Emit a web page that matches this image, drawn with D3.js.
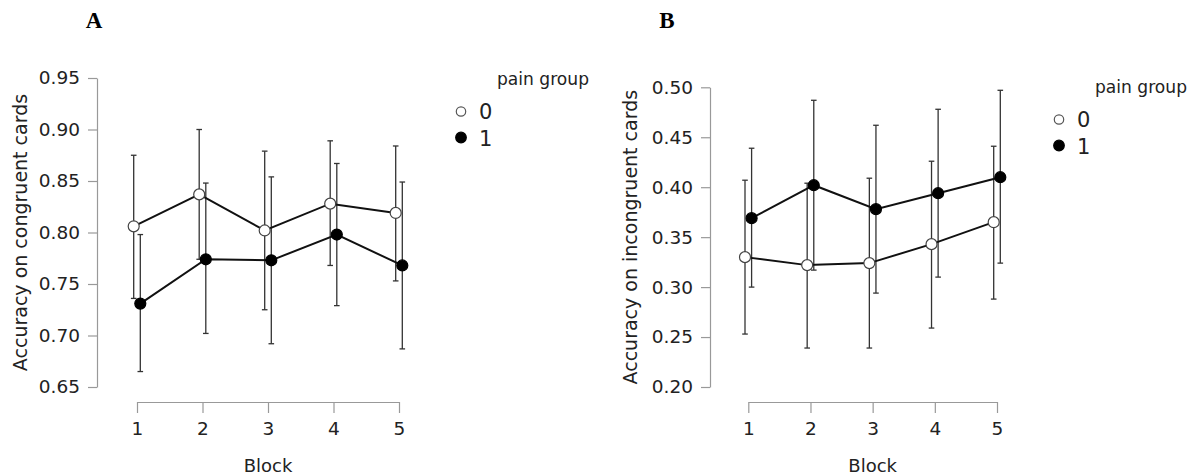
<!DOCTYPE html>
<html>
<head>
<meta charset="utf-8">
<script src="https://cdn.jsdelivr.net/npm/d3@7"></script>
<style>
  body { margin: 0; background: #fff; }
  svg text { font-family: "DejaVu Sans", sans-serif; fill: #222; }
</style>
</head>
<body>
<div id="chart"></div>
<script>
// Block numbers and tick values
var blocks = [1, 2, 3, 4, 5];
var groups = ["0", "1"];
var congruentTicks = [0.65, 0.70, 0.75, 0.80, 0.85, 0.90, 0.95];
var incongruentTicks = [0.20, 0.25, 0.30, 0.35, 0.40, 0.45, 0.50];

// Panel A - accuracy on congruent cards (mean, lower, upper)
var congruentMean0 = [0.806, 0.837, 0.802, 0.828, 0.819];
var congruentLow0 = [0.736, 0.774, 0.725, 0.768, 0.753];
var congruentHigh0 = [0.875, 0.900, 0.879, 0.889, 0.884];
var congruentMean1 = [0.731, 0.774, 0.773, 0.798, 0.768];
var congruentLow1 = [0.665, 0.702, 0.692, 0.729, 0.687];
var congruentHigh1 = [0.798, 0.848, 0.854, 0.867, 0.849];

// Panel B - accuracy on incongruent cards
var incongruentMean0 = [0.330, 0.322, 0.324, 0.343, 0.365];
var incongruentLow0 = [0.253, 0.239, 0.239, 0.259, 0.288];
var incongruentHigh0 = [0.407, 0.404, 0.409, 0.426, 0.441];
var incongruentMean1 = [0.369, 0.402, 0.378, 0.394, 0.410];
var incongruentLow1 = [0.300, 0.317, 0.294, 0.310, 0.324];
var incongruentHigh1 = [0.439, 0.487, 0.462, 0.478, 0.497];

var w = 1198;
var h = 476;

var svg = d3.select("#chart")
            .append("svg")
            .attr("width", w)
            .attr("height", h);

function series(mean, low, high) {
    return blocks.map(function(b, i) {
        return {block: b, mean: mean[i], low: low[i], high: high[i]};
    });
}

function drawPanel(p) {
    var g = svg.append("g");

    var x = d3.scaleLinear().domain([1, 5]).range(p.xRange);
    var y = d3.scaleLinear().domain(d3.extent(p.ticks)).range(p.yRange);
    var dodge = 3.3;

    // panel letter
    g.append("text")
        .attr("x", p.letterX)
        .attr("y", 28)
        .attr("text-anchor", "middle")
        .style("font-family", "'Liberation Serif', serif")
        .style("font-weight", "bold")
        .style("font-size", "23px")
        .style("fill", "#000")
        .text(p.letter);

    // y axis
    var yAxis = g.append("g")
        .attr("transform", "translate(" + p.yAxisX + ",0)")
        .call(d3.axisLeft(y).tickValues(p.ticks).tickFormat(d3.format(".2f"))
              .tickSize(9).tickSizeOuter(0).tickPadding(8));
    // x axis
    var xAxis = g.append("g")
        .attr("transform", "translate(0," + p.xAxisY + ")")
        .call(d3.axisBottom(x).tickValues(blocks).tickFormat(d3.format("d"))
              .tickSize(11).tickSizeOuter(0).tickPadding(9));

    [yAxis, xAxis].forEach(function(a) {
        a.select(".domain").attr("stroke", "#999").attr("stroke-width", 1.2);
        a.selectAll(".tick line").attr("stroke", "#999").attr("stroke-width", 1.2);
        a.selectAll(".tick text")
            .style("font-size", "18.5px")
            .style("fill", "#222");
    });

    // axis titles
    g.append("text")
        .attr("transform", "translate(" + p.titleX + "," + (d3.sum(p.yRange) / 2) + ") rotate(-90)")
        .attr("text-anchor", "middle")
        .attr("dy", "0.35em")
        .style("font-size", "19px")
        .text(p.yTitle);

    g.append("text")
        .attr("x", d3.sum(p.xRange) / 2)
        .attr("y", 472)
        .attr("text-anchor", "middle")
        .style("font-size", "18px")
        .text("Block");

    var line = d3.line()
        .x(function(d) { return x(d.block) + d.off; })
        .y(function(d) { return y(d.mean); });

    p.data.forEach(function(s, k) {
        var off = k == 0 ? -dodge : dodge;
        s.forEach(function(d) { d.off = off; });

        // error bars
        var bars = g.append("g").selectAll(".bar")
            .data(s)
            .enter()
            .append("g")
            .attr("class", "bar")
            .attr("stroke", "#333")
            .attr("stroke-width", 1.3);
        bars.append("line")
            .attr("x1", function(d) { return x(d.block) + off; })
            .attr("x2", function(d) { return x(d.block) + off; })
            .attr("y1", function(d) { return y(d.low); })
            .attr("y2", function(d) { return y(d.high); });
        bars.append("line")
            .attr("x1", function(d) { return x(d.block) + off - 2.8; })
            .attr("x2", function(d) { return x(d.block) + off + 2.8; })
            .attr("y1", function(d) { return y(d.high); })
            .attr("y2", function(d) { return y(d.high); });
        bars.append("line")
            .attr("x1", function(d) { return x(d.block) + off - 2.8; })
            .attr("x2", function(d) { return x(d.block) + off + 2.8; })
            .attr("y1", function(d) { return y(d.low); })
            .attr("y2", function(d) { return y(d.low); });
    });

    p.data.forEach(function(s, k) {
        g.append("path")
            .datum(s)
            .attr("fill", "none")
            .attr("stroke", "#111")
            .attr("stroke-width", 2)
            .attr("d", line);
    });

    p.data.forEach(function(s, k) {
        g.append("g").selectAll("circle")
            .data(s)
            .enter()
            .append("circle")
            .attr("cx", function(d) { return x(d.block) + d.off; })
            .attr("cy", function(d) { return y(d.mean); })
            .attr("r", 5.5)
            .attr("fill", k == 0 ? "#fff" : "#000")
            .attr("stroke", k == 0 ? "#444" : "#000")
            .attr("stroke-width", 1.2);
    });

    // legend
    var lg = g.append("g");
    lg.append("text")
        .attr("x", p.legX + 36)
        .attr("y", p.legY)
        .attr("textLength", 92)
        .attr("lengthAdjust", "spacingAndGlyphs")
        .style("font-size", "18px")
        .text("pain group");
    groups.forEach(function(gr, i) {
        lg.append("circle")
            .attr("cx", p.legX)
            .attr("cy", p.legY + 26.5 + i * 26)
            .attr("r", i == 0 ? 4.7 : 5.3)
            .attr("fill", i == 0 ? "#fff" : "#000")
            .attr("stroke", i == 0 ? "#555" : "#000")
            .attr("stroke-width", 1.2);
        lg.append("text")
            .attr("x", p.legX + 18)
            .attr("y", p.legY + 33.5 + i * 27.5)
            .style("font-size", "21px")
            .text(gr);
    });
}

drawPanel({
    letter: "A", letterX: 94,
    xRange: [137, 399], yRange: [387, 78],
    yAxisX: 97, xAxisY: 402, titleX: 20,
    ticks: congruentTicks,
    yTitle: "Accuracy on congruent cards",
    legX: 461, legY: 85,
    data: [series(congruentMean0, congruentLow0, congruentHigh0),
           series(congruentMean1, congruentLow1, congruentHigh1)]
});

drawPanel({
    letter: "B", letterX: 667,
    xRange: [748.3, 997], yRange: [387, 87.3],
    yAxisX: 710, xAxisY: 402, titleX: 630,
    ticks: incongruentTicks,
    yTitle: "Accuracy on incongruent cards",
    legX: 1059, legY: 93,
    data: [series(incongruentMean0, incongruentLow0, incongruentHigh0),
           series(incongruentMean1, incongruentLow1, incongruentHigh1)]
});
</script>
</body>
</html>
